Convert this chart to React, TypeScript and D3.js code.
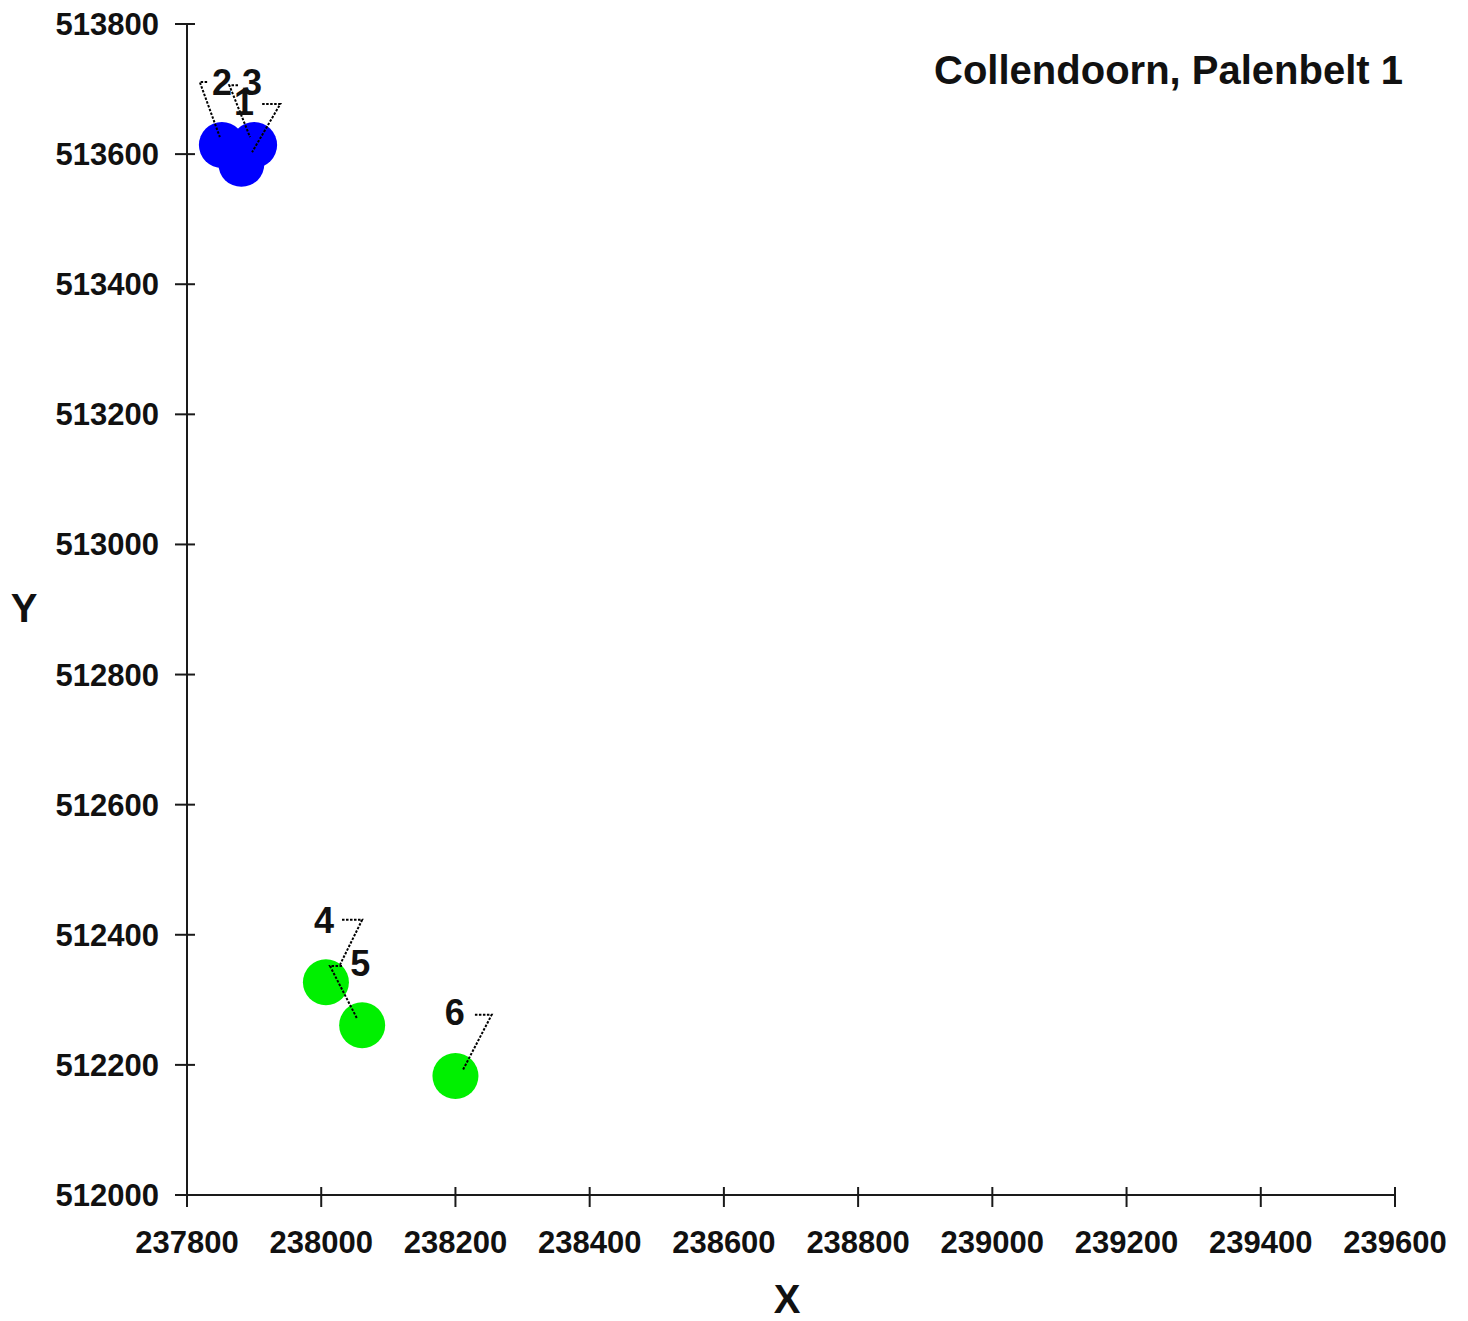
import React from "react";
import * as d3 from "d3";

const TITLE = "Collendoorn, Palenbelt 1";
const X_TICKS = [237800, 238000, 238200, 238400, 238600, 238800, 239000, 239200, 239400, 239600];
const Y_TICKS = [512000, 512200, 512400, 512600, 512800, 513000, 513200, 513400, 513600, 513800];

const POINT_IDS = ["1", "2", "3", "4", "5", "6"];
const POINT_X = [237881, 237852, 237900, 238007, 238061, 238200];
const POINT_Y = [513585, 513614, 513614, 512327, 512261, 512183];
const POINT_SERIES = ["a", "a", "a", "b", "b", "b"];
const SERIES_COLORS: Record<string, string> = { a: "#0000ff", b: "#00f000" };

// label anchor (center x, baseline y) in data units
const LABEL_X = [237885, 237852, 237897, 238004, 238058, 238199];
const LABEL_Y = [513660, 513691, 513691, 512403, 512337, 512261];

// leader polylines in data units: [x0,y0, x1,y1, x2,y2]
const LEADERS: number[][] = [
  [237912, 513677, 237939, 513677, 237897, 513603],
  [237830, 513711, 237819, 513711, 237849, 513626],
  [237876, 513706, 237863, 513706, 237894, 513626],
  [238031, 512423, 238061, 512423, 238028, 512354],
  [238031, 512352, 238013, 512352, 238053, 512272],
  [238229, 512277, 238254, 512277, 238211, 512192],
];

export default function App() {
  const W = 1468;
  const H = 1321;
  const x = d3.scaleLinear().domain([237800, 239600]).range([187, 1395]);
  const y = d3.scaleLinear().domain([512000, 513800]).range([1195, 24]);
  const font = "'Liberation Sans', Arial, sans-serif";
  const axisColor = "#1a1a1a";
  const line = d3.line<[number, number]>().x((d) => x(d[0])).y((d) => y(d[1]));

  return (
    <svg
      width={W}
      height={H}
      style={{ position: "absolute", left: 0, top: 0, background: "#fff" }}
      fontFamily={font}
    >
      <rect width={W} height={H} fill="#fff" />
      {/* axes */}
      <line x1={x(237800)} x2={x(239600)} y1={y(512000)} y2={y(512000)} stroke={axisColor} strokeWidth={2} />
      <line x1={x(237800)} x2={x(237800)} y1={y(512000)} y2={y(513800)} stroke={axisColor} strokeWidth={2} />
      {X_TICKS.map((t) => (
        <g key={"xt" + t}>
          <line x1={x(t)} x2={x(t)} y1={y(512000) - 8} y2={y(512000) + 12} stroke={axisColor} strokeWidth={2} />
          <text x={x(t)} y={y(512000) + 58} textAnchor="middle" fontSize={31} fontWeight="bold" fill="#111">
            {t}
          </text>
        </g>
      ))}
      {Y_TICKS.map((t) => (
        <g key={"yt" + t}>
          <line x1={x(237800) - 12} x2={x(237800) + 8} y1={y(t)} y2={y(t)} stroke={axisColor} strokeWidth={2} />
          <text x={x(237800) - 28} y={y(t) + 11} textAnchor="end" fontSize={31} fontWeight="bold" fill="#111">
            {t}
          </text>
        </g>
      ))}
      {/* axis titles */}
      <text x={787} y={1313} textAnchor="middle" fontSize={40} fontWeight="bold" fill="#111">X</text>
      <text x={24} y={622} textAnchor="middle" fontSize={40} fontWeight="bold" fill="#111">Y</text>
      {/* chart title */}
      <text x={1403} y={84} textAnchor="end" fontSize={40} fontWeight="bold" fill="#111">{TITLE}</text>
      {/* markers */}
      {POINT_IDS.map((id, i) => (
        <circle key={"p" + id} cx={x(POINT_X[i])} cy={y(POINT_Y[i])} r={23} fill={SERIES_COLORS[POINT_SERIES[i]]} />
      ))}
      {/* leaders */}
      {LEADERS.map((l, i) => {
        const pts: [number, number][] = [
          [l[0], l[1]],
          [l[2], l[3]],
          [l[4], l[5]],
        ];
        return (
          <path key={"l" + i} d={line(pts) || ""} fill="none" stroke="#000" strokeWidth={2} strokeDasharray="2.5,1.5" />
        );
      })}
      {/* labels */}
      {POINT_IDS.map((id, i) => (
        <text key={"t" + id} x={x(LABEL_X[i])} y={y(LABEL_Y[i])} textAnchor="middle" fontSize={36} fontWeight="bold" fill="#111">
          {id}
        </text>
      ))}
    </svg>
  );
}
